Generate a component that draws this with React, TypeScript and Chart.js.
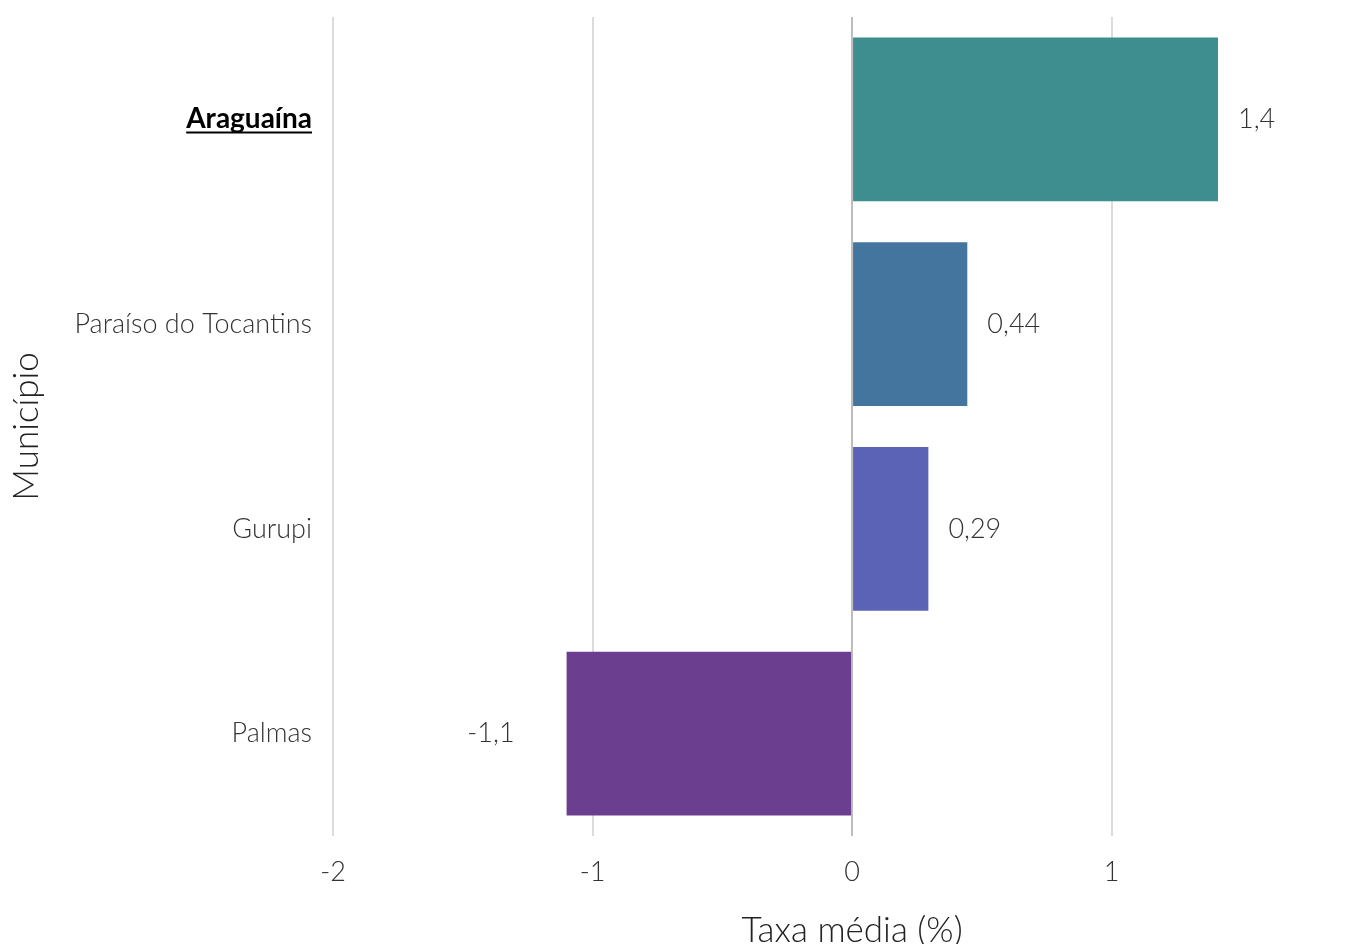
import React, { useEffect, useRef } from "react";
import { Chart, registerables } from "chart.js";

Chart.register(...registerables);

const categories = ["Araguaína", "Paraíso do Tocantins", "Gurupi", "Palmas"];
const values = [1.41, 0.444, 0.294, -1.1];
const barColors = ["#3F8E8F", "#43759F", "#5B63B7", "#6C3E90"];
const xTickValues = [-2, -1, 0, 1];
const xAxisTitle = "Taxa média (%)";
const yAxisTitle = "Município";
const highlighted = "Araguaína";

const FONT = "Lato, 'Noto Sans', sans-serif";

const fmt = (v: number) => Number(v.toPrecision(2)).toString().replace(".", ",");

export default function App() {
  const ref = useRef<HTMLCanvasElement | null>(null);

  useEffect(() => {
    if (!ref.current) return;

    const valueLabels = {
      id: "valueLabels",
      afterDatasetsDraw(chart: any) {
        const { ctx } = chart;
        const meta = chart.getDatasetMeta(0);
        ctx.save();
        ctx.font = `300 27px ${FONT}`;
        ctx.fillStyle = "#333333";
        ctx.textBaseline = "middle";
        meta.data.forEach((el: any, i: number) => {
          const v = values[i];
          if (v >= 0) {
            ctx.textAlign = "left";
            ctx.fillText(fmt(v), el.x + 20, el.y);
          } else {
            ctx.textAlign = "right";
            ctx.fillText(fmt(v), el.x - 52, el.y);
          }
        });
        ctx.restore();
      },
    };

    const extras = {
      id: "extras",
      afterDraw(chart: any) {
        const { ctx } = chart;
        const ys = chart.scales.y;
        const xs = chart.scales.x;
        ctx.save();
        // underline highlighted category label
        const idx = categories.indexOf(highlighted);
        if (idx >= 0) {
          ctx.font = `bold 28px ${FONT}`;
          const w = ctx.measureText(highlighted).width;
          const right = ys.right - 21;
          const y = ys.getPixelForValue(idx) + 13;
          ctx.strokeStyle = "#000000";
          ctx.lineWidth = 2;
          ctx.beginPath();
          ctx.moveTo(right - w, y);
          ctx.lineTo(right, y);
          ctx.stroke();
        }
        // x axis title
        ctx.font = `300 35px ${FONT}`;
        ctx.fillStyle = "#222222";
        ctx.textAlign = "center";
        ctx.textBaseline = "alphabetic";
        ctx.fillText(xAxisTitle, xs.getPixelForValue(0), 942);
        ctx.restore();
      },
    };

    const chart = new Chart(ref.current, {
      type: "bar",
      data: {
        labels: categories,
        datasets: [
          {
            data: values,
            backgroundColor: barColors,
            borderWidth: 0,
            categoryPercentage: 0.8,
            barPercentage: 1,
          },
        ],
      },
      options: {
        indexAxis: "y",
        animation: false,
        responsive: true,
        maintainAspectRatio: false,
        layout: { padding: { top: 17, right: 23, left: 0, bottom: 0 } },
        plugins: {
          legend: { display: false },
          tooltip: { enabled: false },
        },
        scales: {
          x: {
            type: "linear",
            min: -2,
            max: 1.88,
            afterBuildTicks: (scale: any) => {
              scale.ticks = xTickValues.map((v) => ({ value: v }));
            },
            afterFit: (scale: any) => {
              scale.height = 944 - 836;
              scale.paddingLeft = 0;
              scale.paddingRight = 0;
            },
            grid: {
              drawTicks: false,
              lineWidth: 2,
              color: (c: any) => (c.tick && c.tick.value === 0 ? "#BDBDBD" : "#DCDCDC"),
            },
            border: { display: false },
            ticks: {
              padding: 20,
              color: "#333333",
              font: { family: FONT, size: 27, weight: "300" as any },
              callback: (v: any) => String(v),
            },
          },
          y: {
            type: "category",
            afterFit: (scale: any) => {
              scale.width = 333;
              scale.paddingTop = 0;
              scale.paddingBottom = 0;
            },
            grid: { display: false, drawTicks: false },
            border: { display: false },
            ticks: {
              padding: 21,
              color: (c: any) => (categories[c.index] === highlighted ? "#000000" : "#333333"),
              font: (c: any) =>
                categories[c.index] === highlighted
                  ? { family: FONT, size: 28, weight: "bold" as any }
                  : { family: FONT, size: 27, weight: "300" as any },
            },
            title: {
              display: true,
              text: yAxisTitle,
              color: "#222222",
              font: { family: FONT, size: 35, weight: "300" as any, lineHeight: 1 },
              padding: { top: 9, bottom: 0 },
            },
          },
        },
      },
      plugins: [valueLabels, extras],
    });

    return () => chart.destroy();
  }, []);

  return (
    <div style={{ position: "absolute", left: 0, top: 0, width: 1363, height: 944, background: "#ffffff" }}>
      <canvas ref={ref} />
    </div>
  );
}
